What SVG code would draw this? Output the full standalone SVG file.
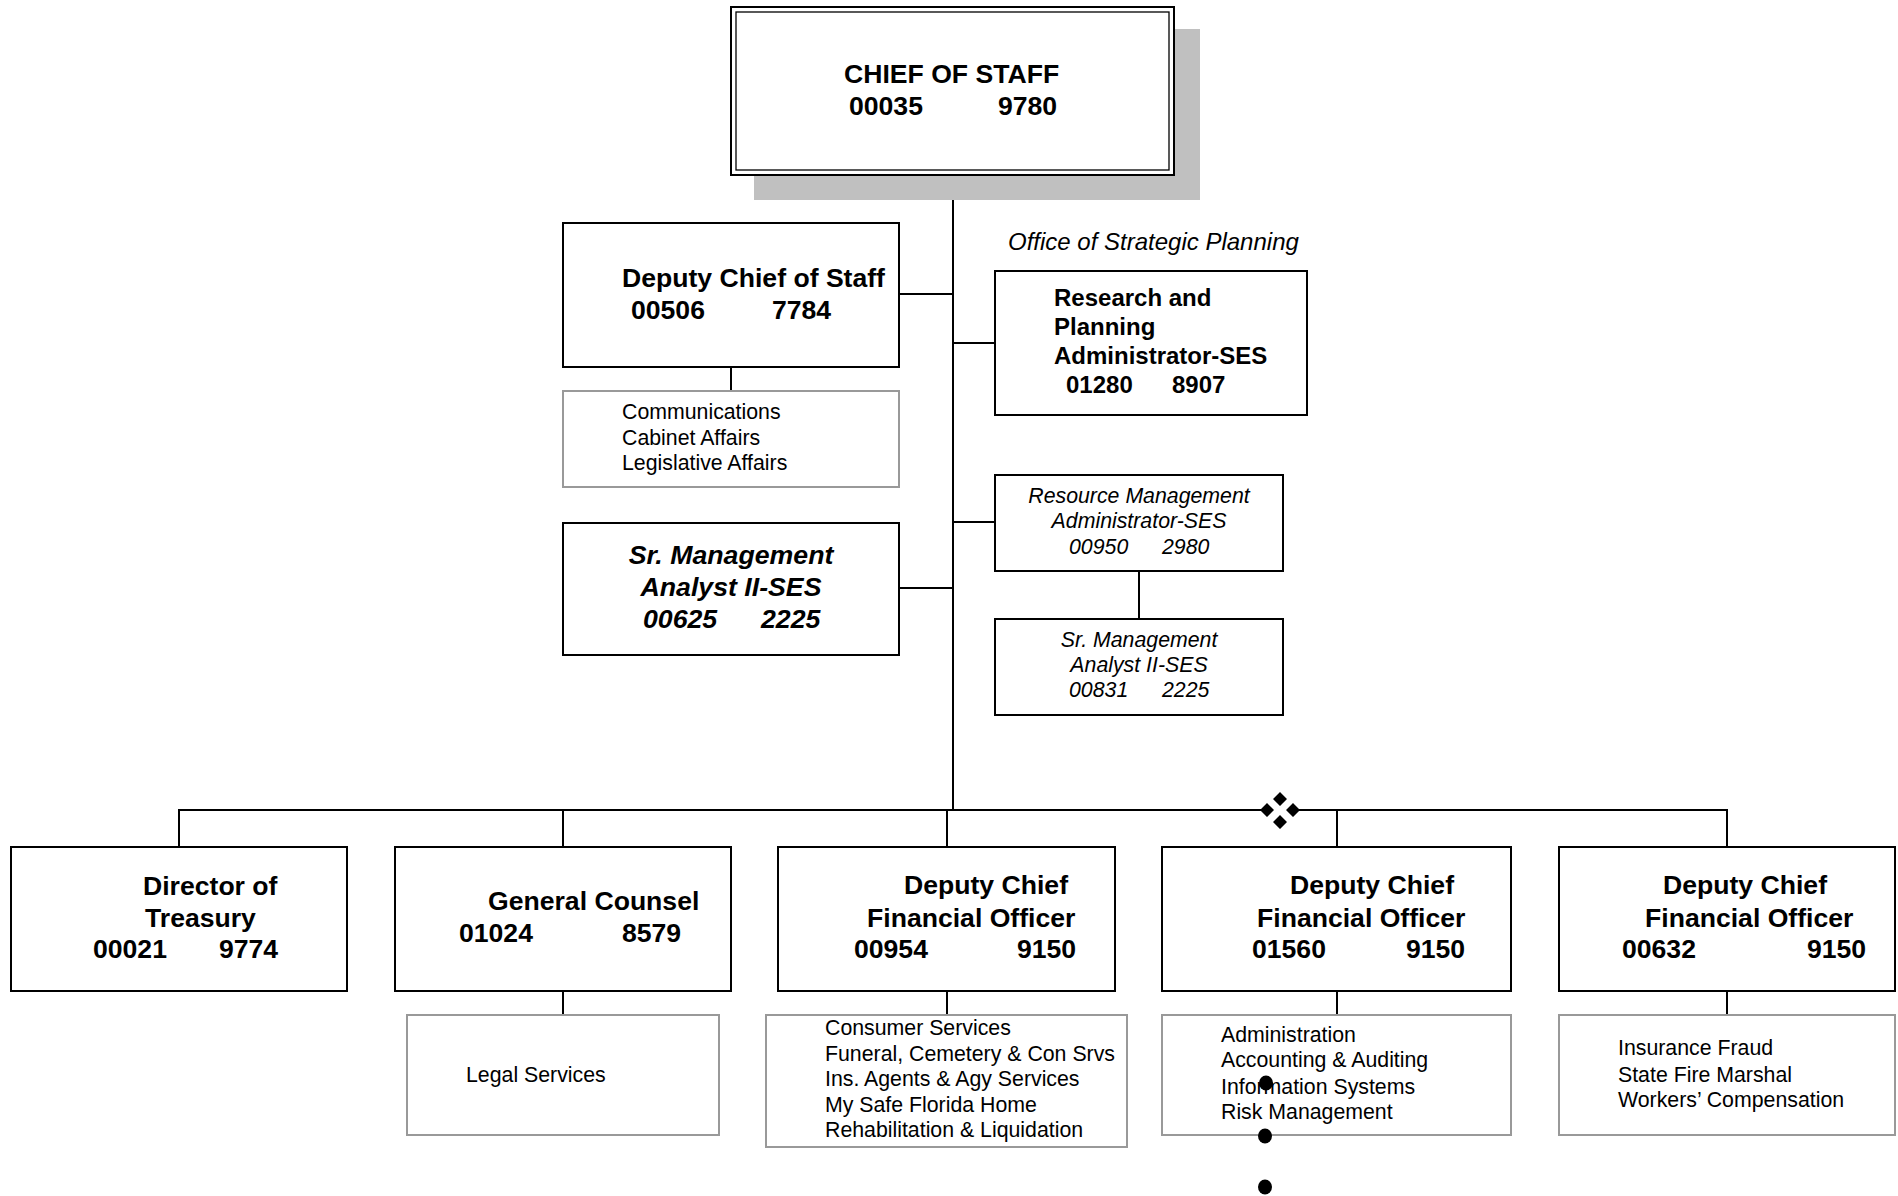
<svg xmlns="http://www.w3.org/2000/svg" width="1898" height="1196" viewBox="0 0 1898 1196">
  <style>
    .box { fill: #ffffff; stroke: #000000; stroke-width: 2; }
    .sub { fill: #ffffff; stroke: #999999; stroke-width: 2; }
    .line { stroke: #000000; stroke-width: 2; fill: none; }
    text { font-family: "Liberation Sans", Arial, sans-serif; fill: #000000; }
    .t26b { font-size: 26.6px; font-weight: bold; }
    .t24b { font-size: 24px; font-weight: bold; }
    .t26bi { font-size: 26.7px; font-weight: bold; font-style: italic; }
    .t21 { font-size: 21.3px; }
    .t21i { font-size: 21.3px; font-style: italic; }
    .t24i { font-size: 24px; font-style: italic; }
    .mid { text-anchor: middle; }
  </style>

  <rect width="1898" height="1196" fill="#ffffff"/>

  <!-- connectors -->
  <g id="connectors">
    <line class="line" x1="953" y1="175" x2="953" y2="811"/>
    <line class="line" x1="899" y1="294" x2="953" y2="294"/>
    <line class="line" x1="731" y1="367" x2="731" y2="391"/>
    <line class="line" x1="953" y1="343" x2="995" y2="343"/>
    <line class="line" x1="953" y1="522" x2="995" y2="522"/>
    <line class="line" x1="1139" y1="571" x2="1139" y2="619"/>
    <line class="line" x1="899" y1="588" x2="953" y2="588"/>
    <line class="line" x1="178" y1="810" x2="1728" y2="810"/>
    <line class="line" x1="179" y1="810" x2="179" y2="847"/>
    <line class="line" x1="563" y1="810" x2="563" y2="847"/>
    <line class="line" x1="947" y1="810" x2="947" y2="847"/>
    <line class="line" x1="1337" y1="810" x2="1337" y2="847"/>
    <line class="line" x1="1727" y1="810" x2="1727" y2="847"/>
    <line class="line" x1="563" y1="991" x2="563" y2="1015"/>
    <line class="line" x1="947" y1="991" x2="947" y2="1015"/>
    <line class="line" x1="1337" y1="991" x2="1337" y2="1015"/>
    <line class="line" x1="1727" y1="991" x2="1727" y2="1015"/>
    <!-- ornament on the bar -->
    <rect x="1273" y="805" width="14" height="10" fill="#ffffff"/>
    <path d="M1280 792 L1287 799 L1280 806 L1273 799 Z M1267 803 L1274 810 L1267 817 L1260 810 Z M1293 803 L1300 810 L1293 817 L1286 810 Z M1280 815 L1287 822 L1280 829 L1273 822 Z" fill="#000000"/>
  </g>

  <!-- top -->
  <g id="chief-of-staff">
    <rect x="754" y="29" width="446" height="171" fill="#c0c0c0"/>
    <rect x="731" y="7" width="443" height="168" fill="#ffffff" stroke="#000000" stroke-width="2"/>
    <rect x="736" y="12" width="433" height="158" fill="none" stroke="#000000" stroke-width="1.3"/>
    <text class="t26b" x="844" y="83">CHIEF OF STAFF</text>
    <text class="t26b" x="849" y="115">00035</text>
    <text class="t26b" x="998" y="115">9780</text>
  </g>

  <g id="deputy-chief-of-staff">
    <rect class="box" x="563" y="223" width="336" height="144"/>
    <text class="t26b" x="622" y="287">Deputy Chief of Staff</text>
    <text class="t26b" x="631" y="319">00506</text>
    <text class="t26b" x="772" y="319">7784</text>
  </g>

  <g id="deputy-chief-of-staff-units">
    <rect class="sub" x="563" y="391" width="336" height="96"/>
    <text class="t21" x="622" y="419">Communications</text>
    <text class="t21" x="622" y="445">Cabinet Affairs</text>
    <text class="t21" x="622" y="470">Legislative Affairs</text>
  </g>

  <g id="strategic-planning-label">
    <text class="t24i" x="1008" y="250">Office of Strategic Planning</text>
  </g>

  <g id="research-planning">
    <rect class="box" x="995" y="271" width="312" height="144"/>
    <text class="t24b" x="1054" y="306">Research and</text>
    <text class="t24b" x="1054" y="335">Planning</text>
    <text class="t24b" x="1054" y="364">Administrator-SES</text>
    <text class="t24b" x="1066" y="393">01280</text>
    <text class="t24b" x="1172" y="393">8907</text>
  </g>

  <g id="resource-management">
    <rect class="box" x="995" y="475" width="288" height="96"/>
    <text class="t21i mid" x="1139" y="503">Resource Management</text>
    <text class="t21i mid" x="1139" y="528">Administrator-SES</text>
    <text class="t21i" x="1069" y="554">00950</text>
    <text class="t21i" x="1162" y="554">2980</text>
  </g>

  <g id="sr-management-analyst-00831">
    <rect class="box" x="995" y="619" width="288" height="96"/>
    <text class="t21i mid" x="1139" y="647">Sr. Management</text>
    <text class="t21i mid" x="1139" y="672">Analyst II-SES</text>
    <text class="t21i" x="1069" y="697">00831</text>
    <text class="t21i" x="1162" y="697">2225</text>
  </g>

  <g id="sr-management-analyst-00625">
    <rect class="box" x="563" y="523" width="336" height="132"/>
    <text class="t26bi mid" x="731" y="564">Sr. Management</text>
    <text class="t26bi mid" x="731" y="596">Analyst II-SES</text>
    <text class="t26bi" x="643" y="628">00625</text>
    <text class="t26bi" x="761" y="628">2225</text>
  </g>

  <!-- bottom row -->
  <g id="director-of-treasury">
    <rect class="box" x="11" y="847" width="336" height="144"/>
    <text class="t26b" x="143" y="895">Director of</text>
    <text class="t26b" x="145" y="927">Treasury</text>
    <text class="t26b" x="93" y="958">00021</text>
    <text class="t26b" x="219" y="958">9774</text>
  </g>

  <g id="general-counsel">
    <rect class="box" x="395" y="847" width="336" height="144"/>
    <text class="t26b" x="488" y="910">General Counsel</text>
    <text class="t26b" x="459" y="942">01024</text>
    <text class="t26b" x="622" y="942">8579</text>
  </g>

  <g id="general-counsel-units">
    <rect class="sub" x="407" y="1015" width="312" height="120"/>
    <text class="t21" x="466" y="1082">Legal Services</text>
  </g>

  <g id="deputy-cfo-00954">
    <rect class="box" x="778" y="847" width="337" height="144"/>
    <text class="t26b" x="904" y="894">Deputy Chief</text>
    <text class="t26b" x="867" y="927">Financial Officer</text>
    <text class="t26b" x="854" y="958">00954</text>
    <text class="t26b" x="1017" y="958">9150</text>
  </g>

  <g id="deputy-cfo-00954-units">
    <rect class="sub" x="766" y="1015" width="361" height="132"/>
    <text class="t21" x="825" y="1035">Consumer Services</text>
    <text class="t21" x="825" y="1061">Funeral, Cemetery &amp; Con Srvs</text>
    <text class="t21" x="825" y="1086">Ins. Agents &amp; Agy Services</text>
    <text class="t21" x="825" y="1112">My Safe Florida Home</text>
    <text class="t21" x="825" y="1137">Rehabilitation &amp; Liquidation</text>
  </g>

  <g id="deputy-cfo-01560">
    <rect class="box" x="1162" y="847" width="349" height="144"/>
    <text class="t26b" x="1290" y="894">Deputy Chief</text>
    <text class="t26b" x="1257" y="927">Financial Officer</text>
    <text class="t26b" x="1252" y="958">01560</text>
    <text class="t26b" x="1406" y="958">9150</text>
  </g>

  <g id="deputy-cfo-01560-units">
    <rect class="sub" x="1162" y="1015" width="349" height="120"/>
    <text class="t21" x="1221" y="1042">Administration</text>
    <text class="t21" x="1221" y="1067">Accounting &amp; Auditing</text>
    <text class="t21" x="1221" y="1094">Information Systems</text>
    <text class="t21" x="1221" y="1119">Risk Management</text>
    <ellipse cx="1266" cy="1083" rx="7" ry="7.5" fill="#000000"/>
    <ellipse cx="1265" cy="1136" rx="7" ry="7.5" fill="#000000"/>
    <ellipse cx="1265" cy="1187" rx="7" ry="7.5" fill="#000000"/>
  </g>

  <g id="deputy-cfo-00632">
    <rect class="box" x="1559" y="847" width="336" height="144"/>
    <text class="t26b" x="1663" y="894">Deputy Chief</text>
    <text class="t26b" x="1645" y="927">Financial Officer</text>
    <text class="t26b" x="1622" y="958">00632</text>
    <text class="t26b" x="1807" y="958">9150</text>
  </g>

  <g id="deputy-cfo-00632-units">
    <rect class="sub" x="1559" y="1015" width="336" height="120"/>
    <text class="t21" x="1618" y="1055">Insurance Fraud</text>
    <text class="t21" x="1618" y="1082">State Fire Marshal</text>
    <text class="t21" x="1618" y="1107">Workers’ Compensation</text>
  </g>
</svg>
